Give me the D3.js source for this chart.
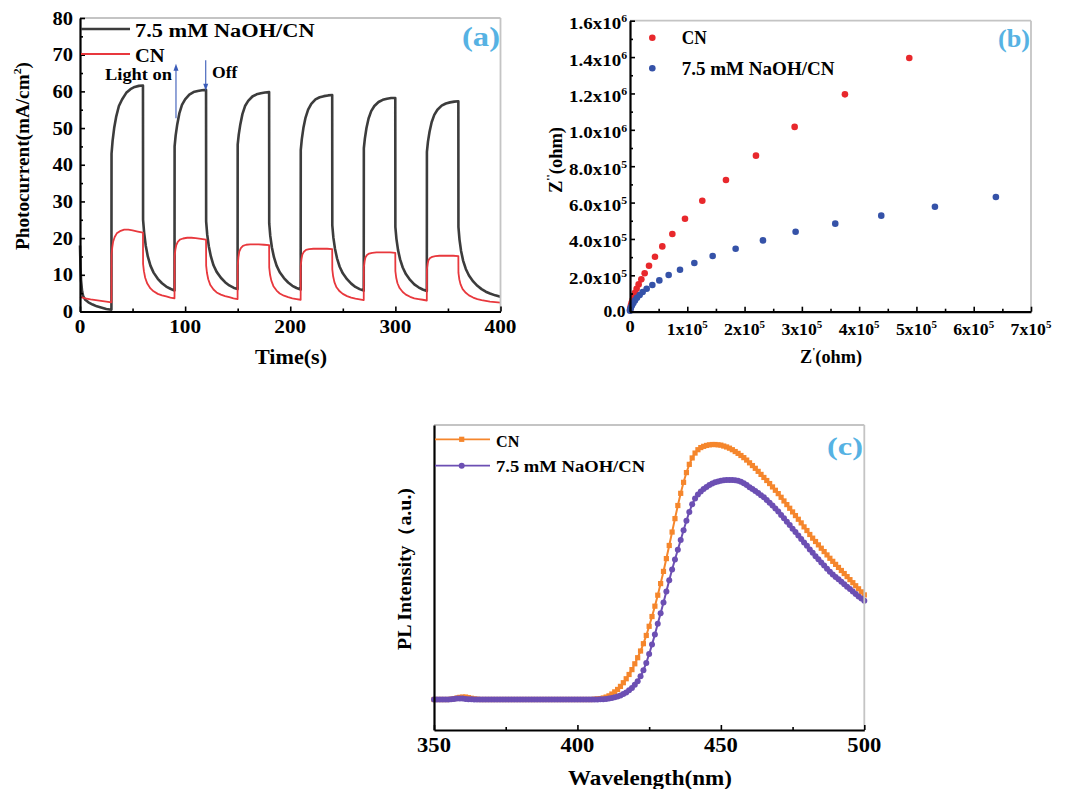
<!DOCTYPE html>
<html><head><meta charset="utf-8">
<script src="https://cdn.jsdelivr.net/npm/d3@7"></script>
<style>
body{margin:0;background:#fff}
svg{display:block}
text{font-family:"Liberation Serif","Times New Roman",serif;font-weight:bold}
</style>
</head><body>
<svg id="fig" width="1069" height="789"></svg>
<script>
// ---------------- DATA ----------------
// (a) photocurrent: [time (s), current (mA/cm2)]
const naohCurrent = [
[0,18],[0.5,12],[1,8.5],[2,5.5],[3,4.2],[5,3.2],[8,2.5],[12,1.9],[16,1.4],[20,1.1],[25,0.7],[29.9,0.5],
[30,43],[31,46.5],[32.5,50],[34.5,53.2],[37,56],[40,57.8],[44,59.6],[48,60.6],[52,61.2],[56,61.5],[59.9,61.6],
[60,25],[61,21.5],[62.5,18],[64.5,15],[67,12.5],[70,10.6],[74,8.9],[78,7.7],[82,6.8],[86,6.2],[89.9,5.7],
[90,45],[91,48],[92.5,51],[94.5,54],[97,56.3],[100,57.8],[104,59.1],[108,59.8],[112,60.1],[116,60.3],[119.9,60.4],
[120,24.5],[121,21],[122.5,17.8],[124.5,15],[127,12.6],[130,10.8],[134,9.2],[138,8],[142,7.1],[146,6.5],[149.9,6.1],
[150,45.5],[151,48.2],[152.5,51],[154.5,53.8],[157,56],[160,57.4],[164,58.6],[168,59.2],[172,59.5],[176,59.7],[179.9,59.8],
[180,24],[181,20.6],[182.5,17.5],[184.5,14.8],[187,12.5],[190,10.7],[194,9.1],[198,7.9],[202,7],[206,6.4],[209.9,6],
[210,44],[211,47],[212.5,50],[214.5,52.8],[217,55],[220,56.6],[224,57.8],[228,58.4],[232,58.7],[236,58.9],[239.9,59],
[240,23.5],[241,20.2],[242.5,17.2],[244.5,14.5],[247,12.2],[250,10.4],[254,8.8],[258,7.6],[262,6.7],[266,6.1],[269.9,5.7],
[270,44.5],[271,47.2],[272.5,50],[274.5,52.6],[277,54.6],[280,56],[284,57.1],[288,57.7],[292,58],[296,58.2],[299.9,58.2],
[300,23],[301,19.8],[302.5,16.8],[304.5,14.2],[307,12],[310,10.2],[314,8.6],[318,7.4],[322,6.6],[326,6],[329.9,5.6],
[330,43.5],[331,46.3],[332.5,49],[334.5,51.6],[337,53.6],[340,55],[344,56.1],[348,56.7],[352,57],[356,57.2],[359.9,57.3],
[360,23],[361,19.6],[362.5,16.5],[364.5,13.8],[367,11.6],[370,9.8],[374,8.2],[378,7],[382,6.1],[386,5.4],[390,4.9],[395,4.4],[400,4.0]
];
const cnCurrent = [
[0,4.0],[5,3.6],[10,3.3],[15,3.1],[20,2.9],[25,2.7],[29.9,2.5],
[30,15.5],[30.7,17.5],[31.5,19],[33,20.3],[35,21.3],[38,21.9],[42,22.3],[46,22.3],[50,22.1],[55,21.8],[59.9,21.5],
[60,13],[60.8,11],[62,9.2],[64,7.6],[67,6.3],[70,5.5],[74,4.8],[78,4.4],[82,4.1],[86,3.8],[89.9,3.6],
[90,15],[90.7,16.8],[91.5,18],[93,19],[95,19.6],[98,19.9],[102,20.1],[106,20.1],[110,20],[115,19.8],[119.9,19.6],
[120,12.5],[120.8,10.5],[122,8.8],[124,7.2],[127,6],[130,5.2],[134,4.6],[138,4.2],[142,3.9],[146,3.6],[149.9,3.4],
[150,12.5],[150.7,14.8],[151.5,16.3],[153,17.3],[155,17.9],[158,18.2],[162,18.3],[166,18.3],[170,18.3],[175,18.2],[179.9,18.1],
[180,12],[180.8,10],[182,8.4],[184,6.9],[187,5.7],[190,4.9],[194,4.3],[198,3.9],[202,3.6],[206,3.4],[209.9,3.2],
[210,12.5],[210.7,14.3],[211.5,15.5],[213,16.3],[215,16.8],[218,17],[222,17.1],[226,17.1],[230,17.1],[235,17.1],[239.9,17],
[240,11.5],[240.8,9.6],[242,8],[244,6.6],[247,5.5],[250,4.8],[254,4.2],[258,3.8],[262,3.5],[266,3.3],[269.9,3.1],
[270,12],[270.7,13.6],[271.5,14.7],[273,15.4],[275,15.8],[278,16],[282,16.1],[286,16.1],[290,16.1],[295,16.1],[299.9,16],
[300,11],[300.8,9.2],[302,7.7],[304,6.4],[307,5.3],[310,4.6],[314,4],[318,3.6],[322,3.4],[326,3.2],[329.9,3],
[330,11.5],[330.7,13],[331.5,14],[333,14.6],[335,14.9],[338,15.1],[342,15.2],[346,15.2],[350,15.2],[355,15.2],[359.9,15.1],
[360,10.5],[360.8,8.8],[362,7.4],[364,6.1],[367,5.1],[370,4.4],[374,3.8],[378,3.4],[382,3.1],[386,2.9],[390,2.7],[395,2.55],[400,2.4]
];
const timeTicks = [0,100,200,300,400];
const timeMinor = [50,150,250,350];
const currentTicks = [0,10,20,30,40,50,60,70,80];
const currentMinor = [5,15,25,35,45,55,65,75];
// light on / off arrows: time, from value, to value
const lightArrows = [[91.3,52.7,67.5],[119.6,68.5,60.2]];

// (b) Nyquist: [Z' (ohm), Z'' (ohm)]
const cnNyquist = [
[4.875e5,1.395e6],[3.752e5,1.195e6],[2.874e5,1.016e6],[2.199e5,8.58e5],[1.675e5,7.24e5],[1.262e5,6.10e5],
[0.960e5,5.11e5],[0.739e5,4.27e5],[0.564e5,3.59e5],[0.436e5,3.02e5],[0.332e5,2.53e5],[0.256e5,2.11e5],
[0.198e5,1.78e5],[0.151e5,1.50e5],[0.116e5,1.26e5],[0.087e5,1.04e5],[0.064e5,0.84e5],[0.047e5,0.66e5],
[0.029e5,0.49e5],[0.017e5,0.35e5],[0.006e5,0.20e5],[0,0.09e5]
];
const naohNyquist = [
[6.387e5,6.31e5],[5.323e5,5.77e5],[4.386e5,5.28e5],[3.583e5,4.84e5],[2.891e5,4.40e5],[2.321e5,3.92e5],
[1.844e5,3.46e5],[1.443e5,3.06e5],[1.123e5,2.68e5],[0.873e5,2.31e5],[0.675e5,2.02e5],[0.512e5,1.72e5],
[0.390e5,1.47e5],[0.291e5,1.26e5],[0.221e5,1.08e5],[0.169e5,0.92e5],[0.122e5,0.77e5],[0.087e5,0.62e5],
[0.058e5,0.48e5],[0.035e5,0.35e5],[0.017e5,0.24e5],[0.006e5,0.13e5],[0,0.05e5]
];
const zreTicks = [0,1e5,2e5,3e5,4e5,5e5,6e5,7e5];
const zreLabels = ["0","1x10^5","2x10^5","3x10^5","4x10^5","5x10^5","6x10^5","7x10^5"];
const zreMinor = [0.5e5,1.5e5,2.5e5,3.5e5,4.5e5,5.5e5,6.5e5];
const zimTicks = [0,2e5,4e5,6e5,8e5,1e6,1.2e6,1.4e6,1.6e6];
const zimLabels = ["0.0","2.0x10^5","4.0x10^5","6.0x10^5","8.0x10^5","1.0x10^6","1.2x10^6","1.4x10^6","1.6x10^6"];
const zimMinor = [1e5,3e5,5e5,7e5,9e5,1.1e6,1.3e6,1.5e6];

// (c) PL spectra (arbitrary units)
const wavelengths = [350,351,352,353,354,355,356,357,358,359,360,361,362,363,364,365,366,367,368,369,370,371,372,373,374,375,376,377,378,379,380,381,382,383,384,385,386,387,388,389,390,391,392,393,394,395,396,397,398,399,400,401,402,403,404,405,406,407,408,409,410,411,412,413,414,415,416,417,418,419,420,421,422,423,424,425,426,427,428,429,430,431,432,433,434,435,436,437,438,439,440,441,442,443,444,445,446,447,448,449,450,451,452,453,454,455,456,457,458,459,460,461,462,463,464,465,466,467,468,469,470,471,472,473,474,475,476,477,478,479,480,481,482,483,484,485,486,487,488,489,490,491,492,493,494,495,496,497,498,499,500];
const cnPL = [10.0,10.0,10.0,10.0,10.0,10.0,10.1,10.3,10.5,10.7,10.8,10.8,10.6,10.4,10.2,10.1,
10.0,10.0,10.0,10.0,10.0,10.0,10.0,10.0,10.0,10.0,10.0,10.0,10.0,10.0,10.0,10.0,10.0,10.0,10.0,10.0,10.0,10.0,10.0,10.0,
10.0,10.0,10.0,10.0,10.0,10.0,10.0,10.0,10.0,10.0,10.0,10.0,10.0,10.0,10.0,10.0,
10.1,10.2,10.3,10.5,10.8,11.2,11.8,12.5,13.3,14.3,15.5,16.8,18.2,19.8,21.7,23.7,25.9,28.3,31.0,34.0,
37.2,40.6,44.2,48.0,52.0,56.2,60.5,64.9,69.3,73.6,77.6,81.2,84.4,87.1,89.2,90.8,91.9,92.6,93.0,93.3,
93.5,93.6,93.6,93.5,93.4,93.1,92.8,92.4,91.9,91.3,90.7,90.0,89.3,88.5,87.6,86.7,85.8,84.8,83.8,82.8,
81.8,80.8,79.7,78.6,77.5,76.3,75.1,73.9,72.7,71.5,70.3,69.1,67.9,66.6,65.4,64.1,62.9,61.8,60.7,59.6,
58.5,57.4,56.3,55.3,54.3,53.3,52.3,51.3,50.3,49.3,48.3,47.3,46.3,45.3,44.3];
const naohPL = [10.0,10.0,10.0,10.0,10.0,10.0,10.1,10.2,10.3,10.3,10.3,10.2,10.1,10.1,10.0,10.0,
10.0,10.0,10.0,10.0,10.0,10.0,10.0,10.0,10.0,10.0,10.0,10.0,10.0,10.0,10.0,10.0,10.0,10.0,10.0,10.0,10.0,10.0,10.0,10.0,
10.0,10.0,10.0,10.0,10.0,10.0,10.0,10.0,10.0,10.0,10.0,10.0,10.0,10.0,10.0,10.0,
10.0,10.0,10.1,10.1,10.2,10.3,10.5,10.7,11.0,11.3,11.8,12.3,13.0,13.8,14.8,16.0,17.6,19.6,22.0,24.9,
28.0,31.3,34.8,38.3,41.8,45.4,49.1,52.6,55.9,59.1,62.3,65.5,68.6,71.5,74.0,75.9,77.2,78.2,79.0,79.7,
80.3,80.8,81.2,81.5,81.7,81.9,82.0,82.0,82.0,81.9,81.7,81.4,80.9,80.3,79.6,79.0,78.4,77.7,77.0,76.3,
75.4,74.5,73.6,72.6,71.6,70.5,69.4,68.3,67.2,66.0,64.9,63.8,62.6,61.5,60.4,59.2,58.1,57.0,56.0,54.9,
53.9,52.9,51.9,51.0,50.2,49.4,48.6,47.8,47.0,46.2,45.4,44.6,43.8,43.1,42.4];
const waveTicks = [350,400,450,500];
const waveMinor = [375,425,475];

const seriesNames = ["7.5 mM NaOH/CN","CN"];

// ---------------- DRAWING ----------------
const svg = d3.select("#fig");
const PANEL_BLUE = "#56b2e3";

function label(g, x, y, str, o = {}) {
  const size = o.size || 18;
  let tf = `translate(${x},${y})` + (o.rotate ? ` rotate(${o.rotate})` : "");
  const t = g.append("text").attr("transform", tf)
    .attr("text-anchor", o.anchor || "start")
    .attr("font-size", size).attr("fill", o.color || "#000");
  const parts = str.split(/(\^[^\s()]+)/).filter(s => s.length);
  let shift = 0;
  parts.forEach(p => {
    if (p[0] === "^") {
      t.append("tspan").text(p.slice(1)).attr("font-size", size * 0.62).attr("dy", -size * 0.42);
      shift = size * 0.42;
    } else {
      const s = t.append("tspan").text(p);
      if (shift) { s.attr("dy", shift); shift = 0; }
    }
  });
  let sx = o.sx || 1;
  if (o.width) {
    const w = t.node().getBBox().width;
    if (w > 0) sx = o.width / w;
  }
  t.attr("transform", tf + ` scale(${sx},1)`);
  return t;
}

function axesFrame(g, x, y, xMaj, xMin, yMaj, yMin) {
  const [x0, x1] = x.range(), [y0, y1] = y.range();
  g.append("line").attr("x1", x0).attr("x2", x1).attr("y1", y1).attr("y2", y1)
    .attr("stroke", "#c4c4c4").attr("stroke-width", 1.8);
  g.append("line").attr("x1", x1).attr("x2", x1).attr("y1", y1).attr("y2", y0)
    .attr("stroke", "#c4c4c4").attr("stroke-width", 1.8);
  g.append("g").attr("transform", `translate(0,${y0})`)
    .call(d3.axisBottom(x).tickValues(xMaj).tickSize(-5).tickSizeOuter(0).tickFormat(""));
  const bxm = g.append("g").attr("transform", `translate(0,${y0})`)
    .call(d3.axisBottom(x).tickValues(xMin).tickSize(-3).tickSizeOuter(0).tickFormat(""));
  bxm.select(".domain").remove();
  g.append("g").attr("transform", `translate(${x0},0)`)
    .call(d3.axisLeft(y).tickValues(yMaj).tickSize(-5).tickSizeOuter(0).tickFormat(""));
  const lym = g.append("g").attr("transform", `translate(${x0},0)`)
    .call(d3.axisLeft(y).tickValues(yMin).tickSize(-3).tickSizeOuter(0).tickFormat(""));
  lym.select(".domain").remove();
  g.selectAll(".domain").attr("stroke", "#000").attr("stroke-width", 2.2);
  g.selectAll(".tick line").attr("stroke", "#000").attr("stroke-width", 1.6);
}

// ===== Panel (a) =====
{
  const g = svg.append("g");
  const x = d3.scaleLinear([0, 400], [80, 500.5]);
  const y = d3.scaleLinear([0, 80], [311.5, 18]);
  const line = d3.line().x(d => x(d[0])).y(d => y(d[1]));
  g.append("path").datum(naohCurrent).attr("d", line).attr("fill", "none")
    .attr("stroke", "#3c3c3c").attr("stroke-width", 2.6).attr("stroke-linejoin", "round");
  g.append("path").datum(cnCurrent).attr("d", line).attr("fill", "none")
    .attr("stroke", "#e8383d").attr("stroke-width", 1.8).attr("stroke-linejoin", "round");
  axesFrame(g, x, y, timeTicks, timeMinor, currentTicks, currentMinor);
  timeTicks.forEach(v => label(g, x(v), 333, String(v), {size: 19, anchor: "middle", sx: 1.12}));
  currentTicks.forEach(v => label(g, 73, y(v) + 6.5, String(v), {size: 19, anchor: "end", sx: 1.08}));
  label(g, 291, 364, "Time(s)", {size: 21, anchor: "middle", width: 72});
  label(g, 29, 156, "Photocurrent(mA/cm^2)", {size: 18, anchor: "middle", rotate: -90, width: 188});
  // legend
  g.append("line").attr("x1", 81).attr("x2", 130).attr("y1", 29).attr("y2", 29)
    .attr("stroke", "#3c3c3c").attr("stroke-width", 2.4);
  g.append("line").attr("x1", 81).attr("x2", 130).attr("y1", 54).attr("y2", 54)
    .attr("stroke", "#e8383d").attr("stroke-width", 1.8);
  label(g, 135, 37, seriesNames[0], {size: 19, width: 180});
  label(g, 135, 61.5, seriesNames[1], {size: 19, width: 30});
  label(g, 462, 46, "(a)", {size: 27, width: 38, color: PANEL_BLUE});
  // light on/off arrows
  lightArrows.forEach(a => {
    const ax = x(a[0]), yf = y(a[1]), yt = y(a[2]);
    const dir = yt < yf ? -1 : 1;
    g.append("line").attr("x1", ax).attr("x2", ax).attr("y1", yf).attr("y2", yt - dir * 5)
      .attr("stroke", "#3a5bb8").attr("stroke-width", 1.1);
    g.append("path").attr("d", `M${ax},${yt} L${ax - 2.5},${yt - dir * 7} L${ax + 2.5},${yt - dir * 7} Z`)
      .attr("fill", "#3a5bb8");
  });
  label(g, 105, 80, "Light on", {size: 16.5, width: 67});
  label(g, 212, 78, "Off", {size: 16.5, width: 26});
}

// ===== Panel (b) =====
{
  const g = svg.append("g");
  const x = d3.scaleLinear([0, 7e5], [630, 1031]);
  const y = d3.scaleLinear([0, 1.6e6], [311.7, 20.7]);
  g.selectAll("circle.cn").data(cnNyquist).join("circle").attr("class", "cn")
    .attr("cx", d => x(d[0])).attr("cy", d => y(d[1])).attr("r", 3.3).attr("fill", "#e8282c");
  g.selectAll("circle.na").data(naohNyquist).join("circle").attr("class", "na")
    .attr("cx", d => x(d[0])).attr("cy", d => y(d[1])).attr("r", 3.3).attr("fill", "#3552a8");
  axesFrame(g, x, y, zreTicks, zreMinor, zimTicks, zimMinor);
  zreTicks.forEach((v, i) => {
    const s = zreLabels[i];
    if (s.includes("^")) label(g, x(v), 335, s, {size: 16, anchor: "middle", width: 41});
    else label(g, x(v), 332, s, {size: 16, anchor: "middle", sx: 1.15});
  });
  zimTicks.forEach((v, i) => {
    const s = zimLabels[i];
    if (s.includes("^")) label(g, 627, y(v) + 8.5, s, {size: 16, anchor: "end", width: 58});
    else label(g, 625.5, y(v) + 5.5, s, {size: 16, anchor: "end", width: 22});
  });
  label(g, 831, 363, "Z^'(ohm)", {size: 18, anchor: "middle", width: 62});
  label(g, 562, 160, "Z^''(ohm)", {size: 18, anchor: "middle", rotate: -90, width: 66});
  g.append("circle").attr("cx", 652.3).attr("cy", 37.7).attr("r", 3.3).attr("fill", "#e8282c");
  g.append("circle").attr("cx", 652.3).attr("cy", 68.3).attr("r", 3.3).attr("fill", "#3552a8");
  label(g, 681.7, 44.3, seriesNames[1], {size: 18, width: 25});
  label(g, 681.7, 75, seriesNames[0], {size: 18, width: 153});
  label(g, 998, 47, "(b)", {size: 26, width: 32, color: PANEL_BLUE});
}

// ===== Panel (c) =====
{
  const g = svg.append("g");
  const x = d3.scaleLinear([350, 500], [434, 864.3]);
  const y = d3.scaleLinear([0, 100], [730, 425]);
  const ORANGE = "#f5862c", PURPLE = "#6c4fb3";
  const cnPts = wavelengths.map((w, i) => [w, cnPL[i]]).filter(d => d[1] != null);
  const naPts = wavelengths.map((w, i) => [w, naohPL[i]]).filter(d => d[1] != null);
  const line = d3.line().x(d => x(d[0])).y(d => y(d[1]));
  g.append("path").datum(cnPts).attr("d", line).attr("fill", "none").attr("stroke", ORANGE).attr("stroke-width", 2);
  g.selectAll("rect.cn").data(cnPts).join("rect").attr("class", "cn")
    .attr("x", d => x(d[0]) - 2.6).attr("y", d => y(d[1]) - 2.6).attr("width", 5.2).attr("height", 5.2)
    .attr("fill", ORANGE);
  g.append("path").datum(naPts).attr("d", line).attr("fill", "none").attr("stroke", PURPLE).attr("stroke-width", 2);
  g.selectAll("circle.na").data(naPts).join("circle").attr("class", "na")
    .attr("cx", d => x(d[0])).attr("cy", d => y(d[1])).attr("r", 3.0).attr("fill", PURPLE);
  axesFrame(g, x, y, waveTicks, waveMinor, [], []);
  waveTicks.forEach(v => label(g, x(v), 751.5, String(v), {size: 20, anchor: "middle", sx: 1.13}));
  label(g, 650, 785, "Wavelength(nm)", {size: 22, anchor: "middle", width: 164});
  label(g, 411, 569, "PL Intensity（a.u.)", {size: 18, anchor: "middle", rotate: -90, width: 162});
  // legend
  g.append("line").attr("x1", 435).attr("x2", 490).attr("y1", 439.3).attr("y2", 439.3).attr("stroke", ORANGE).attr("stroke-width", 1.8);
  g.append("rect").attr("x", 461.7 - 2.6).attr("y", 439.3 - 2.6).attr("width", 5.2).attr("height", 5.2).attr("fill", ORANGE);
  g.append("line").attr("x1", 435).attr("x2", 490).attr("y1", 465.7).attr("y2", 465.7).attr("stroke", PURPLE).attr("stroke-width", 1.8);
  g.append("circle").attr("cx", 461.7).attr("cy", 465.7).attr("r", 3.0).attr("fill", PURPLE);
  label(g, 496, 446.7, seriesNames[1], {size: 17, width: 24});
  label(g, 496, 472, seriesNames[0], {size: 17, width: 150});
  label(g, 827, 455, "(c)", {size: 26, width: 36, color: PANEL_BLUE});
}
</script>
</body></html>
